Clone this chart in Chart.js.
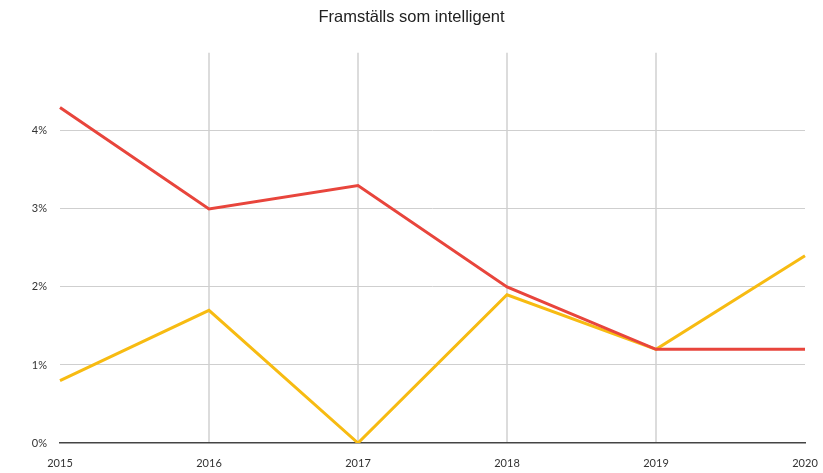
<!DOCTYPE html>
<html>
<head>
<meta charset="utf-8">
<script src="https://cdn.jsdelivr.net/npm/chart.js@4"></script>
<style>
  html, body { margin: 0; padding: 0; background: #fff; }
  #wrap { width: 823px; height: 473px; }
</style>
</head>
<body>
<div id="wrap"><canvas id="chart"></canvas></div>
<script>
// Data
const years = ['2015', '2016', '2017', '2018', '2019', '2020'];
const serieRod = [4.3, 3.0, 3.3, 2.0, 1.2, 1.2];
const serieGul = [0.8, 1.7, 0.0, 1.9, 1.2, 2.4];
const yTicks = [0, 1, 2, 3, 4];

const tickFont = { family: 'Lato, "Open Sans", sans-serif', size: 11 };

new Chart(document.getElementById('chart'), {
    type: 'line',
    data: {
        labels: years,
        datasets: [
            {
                label: 'Röd',
                data: serieRod,
                borderColor: '#e8453c',
                borderWidth: 3,
                pointRadius: 0,
                tension: 0
            },
            {
                label: 'Gul',
                data: serieGul,
                borderColor: '#f7bb12',
                borderWidth: 3,
                pointRadius: 0,
                tension: 0
            }
        ]
    },
    options: {
        responsive: true,
        maintainAspectRatio: false,
        animation: false,
        layout: { padding: { left: 0, right: 0, top: 0, bottom: 0 } },
        plugins: {
            legend: { display: false },
            tooltip: { enabled: false },
            title: {
                display: true,
                text: 'Framställs som intelligent',
                color: '#222',
                font: { family: '"Liberation Sans", Arial, sans-serif', size: 16.5, weight: 'normal' },
                padding: { top: 8, bottom: 25 }
            }
        },
        scales: {
            x: {
                afterFit: function(scale) {
                    scale.height = 30;
                    scale.paddingRight = 18;
                },
                grid: {
                    drawTicks: false,
                    lineWidth: 2,
                    color: function(ctx) {
                        if (ctx.index === 0 || ctx.index === years.length - 1) return 'rgba(0,0,0,0)';
                        return '#dcdcdc';
                    }
                },
                border: { display: true, color: '#444', width: 1.5 },
                ticks: {
                    color: '#333',
                    font: tickFont,
                    padding: 14,
                    maxRotation: 0,
                    autoSkip: false
                }
            },
            y: {
                min: 0,
                max: 5,
                afterFit: function(scale) { scale.width = 60; },
                afterBuildTicks: function(scale) {
                    scale.ticks = yTicks.map(v => ({ value: v }));
                },
                grid: {
                    drawTicks: false,
                    lineWidth: 1,
                    color: function(ctx) {
                        if (ctx.tick && ctx.tick.value === 0) return 'rgba(0,0,0,0)';
                        return '#cfcfcf';
                    }
                },
                border: { display: false },
                ticks: {
                    color: '#333',
                    font: tickFont,
                    padding: 13,
                    callback: function(value) { return value + '%'; }
                }
            }
        }
    }
});
</script>
</body>
</html>
